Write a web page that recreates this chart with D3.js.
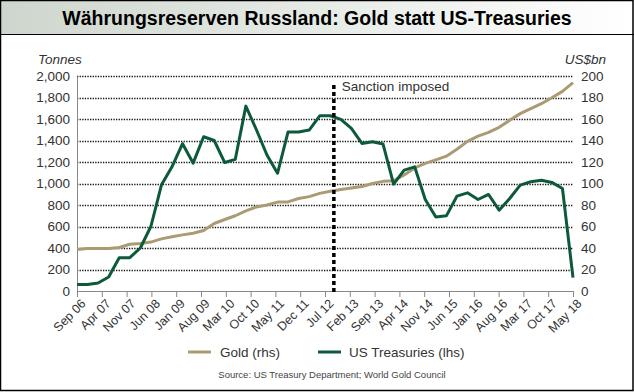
<!DOCTYPE html>
<html><head><meta charset="utf-8">
<script src="https://cdn.jsdelivr.net/npm/d3@7"></script>
<style>
html,body{margin:0;padding:0;background:#fff;}
svg{display:block;font-family:Arial,"Liberation Sans",sans-serif;}
</style></head>
<body>
<svg id="c" width="634" height="392"></svg>
<script>
const title = "Währungsreserven Russland: Gold statt US-Treasuries";
const xTickLabels = ["Sep 06","Apr 07","Nov 07","Jun 08","Jan 09","Aug 09","Mar 10","Oct 10","May 11","Dec 11","Jul 12","Feb 13","Sep 13","Apr 14","Nov 14","Jun 15","Jan 16","Aug 16","Mar 17","Oct 17","May 18"];
const leftTicks = [0,200,400,600,800,1000,1200,1400,1600,1800,2000];
const rightTicks = [0,20,40,60,80,100,120,140,160,180,200];
// Gold holdings, tonnes (drawn against left axis)
const gold = [385,395,395,395,405,435,441,455,485,505,522,537,563,628,665,700,745,782,800,827,829,860,878,908,928,945,958,972,1000,1020,1025,1080,1145,1187,1220,1254,1318,1392,1440,1476,1523,1588,1650,1697,1742,1798,1857,1938];
// US Treasuries, US$bn (drawn against right axis)
const treasuries = [6,6,7.5,13,31,31,40,60,98.5,115.5,137,119,143.5,140,119.5,122.5,172,150,126.5,109.5,148,148,149.7,163,163,159.7,151.3,137.3,138.8,136.7,99.4,112.4,115.5,85.1,68.9,69.9,88.2,91.3,85.1,89.8,75.2,86,98.5,101.6,103.1,101,95.4,12.5];
const sanctionMonth = 72.5; // months after Sep 06
const totalMonths = 140;

const svg = d3.select("#c");
const W = 634, H = 392;
const m = {l:77, r:573, t:76, b:291};

// Title band
const defs = svg.append("defs");
const grad = defs.append("linearGradient").attr("id","tg").attr("x1","0").attr("x2","1").attr("y1","0").attr("y2","0");
grad.append("stop").attr("offset","0%").attr("stop-color","#cdd6cc");
grad.append("stop").attr("offset","100%").attr("stop-color","#ffffff");
svg.append("rect").attr("x",0).attr("y",0).attr("width",W).attr("height",H).attr("fill","#fff");
svg.append("rect").attr("x",1).attr("y",1).attr("width",W-2).attr("height",33).attr("fill","url(#tg)");
svg.append("line").attr("x1",0).attr("x2",W).attr("y1",34.5).attr("y2",34.5).attr("stroke","#000").attr("stroke-width",1);
svg.append("text").attr("x",317).attr("y",25).attr("text-anchor","middle")
  .attr("font-size",19.5).attr("font-weight","bold").attr("fill","#000").text(title);

const x = d3.scaleLinear().domain([0,totalMonths]).range([m.l,m.r]);
const yL = d3.scaleLinear().domain([0,2000]).range([m.b,m.t]);
const yR = d3.scaleLinear().domain([0,200]).range([m.b,m.t]);
const n = gold.length;
const monthOf = i => i*totalMonths/(n-1);

// Grid
svg.append("g").selectAll("line").data(leftTicks.filter(d=>d>0)).join("line")
  .attr("x1",m.l).attr("x2",m.r).attr("y1",d=>Math.round(yL(d))+0.5).attr("y2",d=>Math.round(yL(d))+0.5)
  .attr("stroke","#111").attr("stroke-width",1.3).attr("stroke-dasharray","1.3,1.3");

// Left axis
const axL = svg.append("g").attr("transform",`translate(${m.l},0)`)
  .call(d3.axisLeft(yL).tickValues(leftTicks).tickFormat(d3.format(",")).tickSize(0).tickPadding(7));
axL.select(".domain").attr("stroke","#888");
axL.selectAll("text").attr("font-size",13.5).attr("fill","#333").attr("font-family","Arial,'Liberation Sans',sans-serif");

// Right axis
const axR = svg.append("g").attr("transform",`translate(${m.r},0)`)
  .call(d3.axisRight(yR).tickValues(rightTicks).tickSize(0).tickPadding(8));
axR.select(".domain").remove();
axR.selectAll("text").attr("font-size",13.5).attr("fill","#333").attr("font-family","Arial,'Liberation Sans',sans-serif");

// Bottom axis
const axB = svg.append("g").attr("transform",`translate(0,${m.b})`)
  .call(d3.axisBottom(x).tickValues(d3.range(0,totalMonths+1,7)).tickFormat((d,i)=>xTickLabels[i]).tickSize(6).tickSizeOuter(0));
axB.select(".domain").attr("stroke","#888");
axB.selectAll(".tick line").attr("stroke","#888");
axB.selectAll("text").attr("font-size",12.5).attr("fill","#333").attr("font-family","Arial,'Liberation Sans',sans-serif")
  .attr("text-anchor","end").attr("dx","-0.25em").attr("dy","0.55em").attr("transform","rotate(-45)");

// Axis titles
svg.append("text").attr("x",38).attr("y",64).attr("font-size",13.5).attr("font-style","italic").attr("fill","#333").text("Tonnes");
svg.append("text").attr("x",606).attr("y",64).attr("text-anchor","end").attr("font-size",13.5).attr("font-style","italic").attr("fill","#333").text("US$bn");

// Lines
const goldColor = "#ab9b74", tColor = "#0c5a3a";
svg.append("path").datum(gold).attr("fill","none").attr("stroke",goldColor).attr("stroke-width",3)
  .attr("stroke-linejoin","round")
  .attr("d",d3.line().x((d,i)=>x(monthOf(i))).y(d=>yL(d)));
svg.append("path").datum(treasuries).attr("fill","none").attr("stroke",tColor).attr("stroke-width",3)
  .attr("stroke-linejoin","round")
  .attr("d",d3.line().x((d,i)=>x(monthOf(i))).y(d=>yR(d)));

// Sanction line
svg.append("line").attr("x1",x(sanctionMonth)).attr("x2",x(sanctionMonth)).attr("y1",85).attr("y2",m.b+2)
  .attr("stroke","#000").attr("stroke-width",3.5).attr("stroke-dasharray","4,3");
svg.append("text").attr("x",x(sanctionMonth)+8).attr("y",91).attr("font-size",13.5).attr("fill","#333").text("Sanction imposed");

// Legend
const lg = svg.append("g");
lg.append("line").attr("x1",188).attr("x2",211).attr("y1",352).attr("y2",352).attr("stroke",goldColor).attr("stroke-width",3);
lg.append("text").attr("x",220).attr("y",357).attr("font-size",13.5).attr("fill","#333").text("Gold (rhs)");
lg.append("line").attr("x1",318).attr("x2",341).attr("y1",352).attr("y2",352).attr("stroke",tColor).attr("stroke-width",3);
lg.append("text").attr("x",349).attr("y",357).attr("font-size",13.5).attr("fill","#333").text("US Treasuries (lhs)");
svg.append("text").attr("x",332).attr("y",378).attr("text-anchor","middle").attr("font-size",9.5).attr("fill","#444")
  .text("Source: US Treasury Department; World Gold Council");

// Outer border
svg.append("rect").attr("x",0.5).attr("y",0.5).attr("width",W-1.5).attr("height",H-2).attr("fill","none").attr("stroke","#000").attr("stroke-width",1.5);
</script>
</body></html>
